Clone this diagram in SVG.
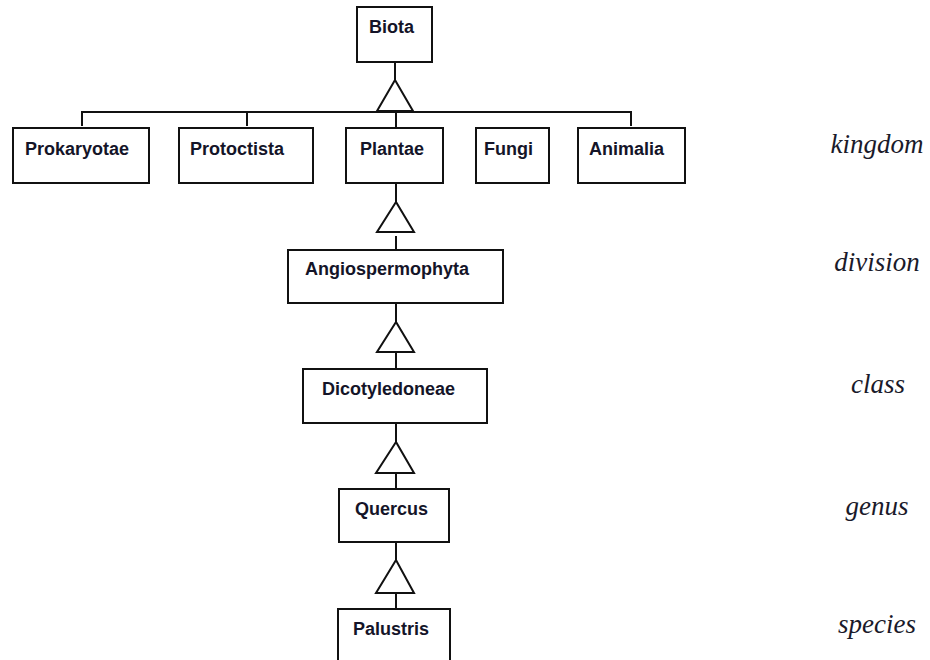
<svg xmlns="http://www.w3.org/2000/svg" width="930" height="660" viewBox="0 0 930 660">
<style>
.box{fill:#fff;stroke:#111;stroke-width:2}
.lbl{font-family:"Liberation Sans",Arial,sans-serif;font-weight:bold;font-size:18px;fill:#141428}
.rank{font-family:"Liberation Serif","Times New Roman",serif;font-style:italic;font-size:27px;fill:#1a1a2a;text-anchor:middle}
.ln{fill:none;stroke:#111;stroke-width:2}
.tri{fill:#fff;stroke:#111;stroke-width:2;stroke-linejoin:miter}
</style>
<rect width="930" height="660" fill="#fff"/>
<g id="connectors">
<path class="ln" d="M395,62 V80"/>
<path class="tri" d="M395,80 L377,111 L413,111 Z"/>
<path class="ln" d="M82,126 V112 H631 V126 M247,112 V126 M396,112 V128"/>
<path class="ln" d="M396,183 V202"/>
<path class="tri" d="M396,202 L377,232 L414,232 Z"/>
<path class="ln" d="M396,236 V250"/>
<path class="ln" d="M396,303 V322"/>
<path class="tri" d="M396,322 L377,352 L414,352 Z"/>
<path class="ln" d="M396,352 V369"/>
<path class="ln" d="M396,423 V442"/>
<path class="tri" d="M396,442 L376,473 L414,473 Z"/>
<path class="ln" d="M396,473 V489"/>
<path class="ln" d="M396,542 V560"/>
<path class="tri" d="M396,560 L376,593 L414,593 Z"/>
<path class="ln" d="M396,593 V609"/>
</g>
<g id="biota"><rect class="box" x="357" y="7" width="75" height="55"/><text class="lbl" x="369" y="33">Biota</text></g>
<g id="prokaryotae"><rect class="box" x="13" y="128" width="136" height="55"/><text class="lbl" x="25" y="155">Prokaryotae</text></g>
<g id="protoctista"><rect class="box" x="179" y="128" width="134" height="55"/><text class="lbl" x="190" y="155">Protoctista</text></g>
<g id="plantae"><rect class="box" x="346" y="128" width="97" height="55"/><text class="lbl" x="360" y="155">Plantae</text></g>
<g id="fungi"><rect class="box" x="476" y="128" width="73" height="55"/><text class="lbl" x="484" y="155">Fungi</text></g>
<g id="animalia"><rect class="box" x="578" y="128" width="107" height="55"/><text class="lbl" x="589" y="155">Animalia</text></g>
<g id="angiospermophyta"><rect class="box" x="288" y="250" width="215" height="53"/><text class="lbl" x="305" y="275">Angiospermophyta</text></g>
<g id="dicotyledoneae"><rect class="box" x="303" y="369" width="184" height="54"/><text class="lbl" x="322" y="395">Dicotyledoneae</text></g>
<g id="quercus"><rect class="box" x="339" y="489" width="110" height="53"/><text class="lbl" x="355" y="515">Quercus</text></g>
<g id="palustris"><rect class="box" x="338" y="609" width="112" height="60"/><text class="lbl" x="353" y="635">Palustris</text></g>
<g id="ranks">
<text class="rank" x="877" y="153">kingdom</text>
<text class="rank" x="877" y="271">division</text>
<text class="rank" x="878" y="393">class</text>
<text class="rank" x="877" y="515">genus</text>
<text class="rank" x="877" y="633">species</text>
</g>
</svg>
